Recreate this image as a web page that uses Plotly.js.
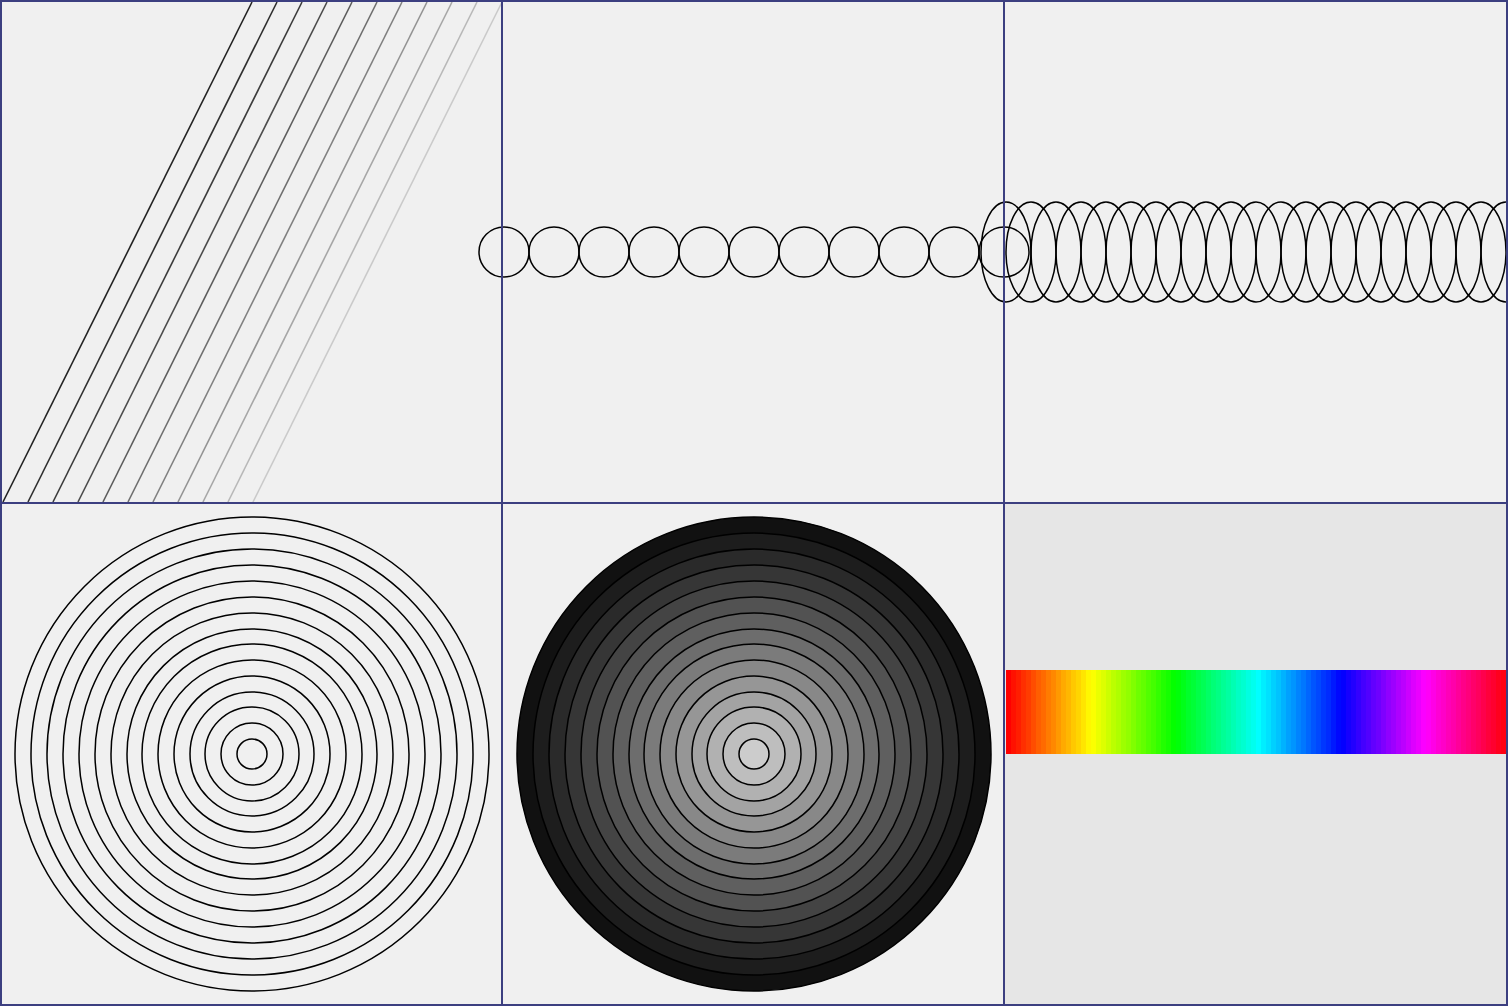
<!DOCTYPE html>
<html>
<head>
<meta charset="utf-8">
<script src="https://cdn.plot.ly/plotly-3.0.1.min.js"></script>
<style>html,body{margin:0;padding:0;background:#f0f0f0;} #plot{width:1508px;height:1006px;}</style>
</head>
<body>
<div id="plot"></div>
<script>
const BORDER = '#3c3f80';

// panel 1: slanted lines (bottom x offsets, gray levels)
const slantStarts = [3, 28, 53, 78, 103, 128, 153, 178, 203, 228, 253];
const slantGrays = ['#222222', '#2e2e2e', '#3b3b3b', '#4b4b4b', '#5c5c5c', '#6e6e6e', '#808080', '#939393', '#a6a6a6', '#b8b8b8', '#cacaca'];

// panel 2: small circles along a row
const rowCentersA = [504, 554, 604, 654, 704, 754, 804, 854, 904, 954, 1004];
// panel 3: overlapping circles
const rowCentersB = [1006, 1031, 1056, 1081, 1106, 1131, 1156, 1181, 1206, 1231, 1256,
    1281, 1306, 1331, 1356, 1381, 1406, 1431, 1456, 1481, 1506];

// panels 4 and 5: concentric rings
const ringRadii = [237, 221, 205, 189, 173, 157, 141, 125, 110, 94, 78, 62, 47, 31, 15];
const ringGrays = ['#111111', '#1d1d1d', '#2a2a2a', '#363636', '#444444', '#525252', '#5f5f5f',
    '#6d6d6d', '#7b7b7b', '#888888', '#969696', '#a3a3a3', '#b1b1b1', '#bebebe', '#cccccc'];

// panel 6: rainbow strip, hue per stripe
const stripeCount = 100;

const shapes = [];

// panel backgrounds
const panels = [[0, 0], [502, 0], [1004, 0], [0, 502], [502, 502], [1004, 502]];
panels.forEach(([x, y], i) => {
    shapes.push({type: 'rect', xref: 'x', yref: 'y', x0: x + 1, x1: x + 503, y0: y + 1, y1: y + 503,
        fillcolor: i === 5 ? '#e6e6e6' : '#f0f0f0', line: {width: 0}, layer: 'below'});
});

slantStarts.forEach((s, i) => {
    shapes.push({type: 'line', xref: 'x', yref: 'y', x0: s, y0: 502, x1: s + 249, y1: 2,
        line: {color: slantGrays[i], width: 1.6}});
});

rowCentersA.forEach(c => {
    shapes.push({type: 'circle', xref: 'x', yref: 'y', x0: c - 25, x1: c + 25, y0: 227, y1: 277,
        line: {color: '#000', width: 1.5}});
});

rowCentersB.forEach(c => {
    shapes.push({type: 'circle', xref: 'x', yref: 'y', x0: c - 25, x1: c + 25, y0: 202, y1: 302,
        line: {color: '#000', width: 1.5}});
});

ringRadii.forEach(r => {
    shapes.push({type: 'circle', xref: 'x', yref: 'y', x0: 252 - r, x1: 252 + r, y0: 754 - r, y1: 754 + r,
        line: {color: '#000', width: 1.5}});
});

ringRadii.forEach((r, i) => {
    shapes.push({type: 'circle', xref: 'x', yref: 'y', x0: 754 - r, x1: 754 + r, y0: 754 - r, y1: 754 + r,
        fillcolor: ringGrays[i], line: {color: '#000', width: 1.5}});
});

for (let k = 0; k < stripeCount; k++) {
    const hue = Math.round(k * 360 / stripeCount);
    shapes.push({type: 'rect', xref: 'x', yref: 'y', x0: 1006 + k * 5, x1: 1006 + (k + 1) * 5, y0: 670, y1: 754,
        fillcolor: 'hsl(' + hue + ',100%,50%)', line: {width: 0}});
}

// clip panels by overdrawing gutters with panel borders
[1, 502, 1004, 1507].forEach(x => {
    shapes.push({type: 'line', xref: 'x', yref: 'y', x0: x, x1: x, y0: 0, y1: 1006, line: {color: BORDER, width: 2}});
});
[1, 503, 1005].forEach(y => {
    shapes.push({type: 'line', xref: 'x', yref: 'y', x0: 0, x1: 1508, y0: y, y1: y, line: {color: BORDER, width: 2}});
});

const layout = {
    width: 1508, height: 1006,
    margin: {l: 0, r: 0, t: 0, b: 0},
    paper_bgcolor: '#f0f0f0', plot_bgcolor: '#f0f0f0',
    showlegend: false,
    xaxis: {range: [0, 1508], visible: false, fixedrange: true},
    yaxis: {range: [1006, 0], visible: false, fixedrange: true},
    shapes: shapes
};

Plotly.newPlot('plot', [{x: [0], y: [0], mode: 'markers', marker: {opacity: 0}, hoverinfo: 'skip'}],
    layout, {staticPlot: true});
</script>
</body>
</html>
